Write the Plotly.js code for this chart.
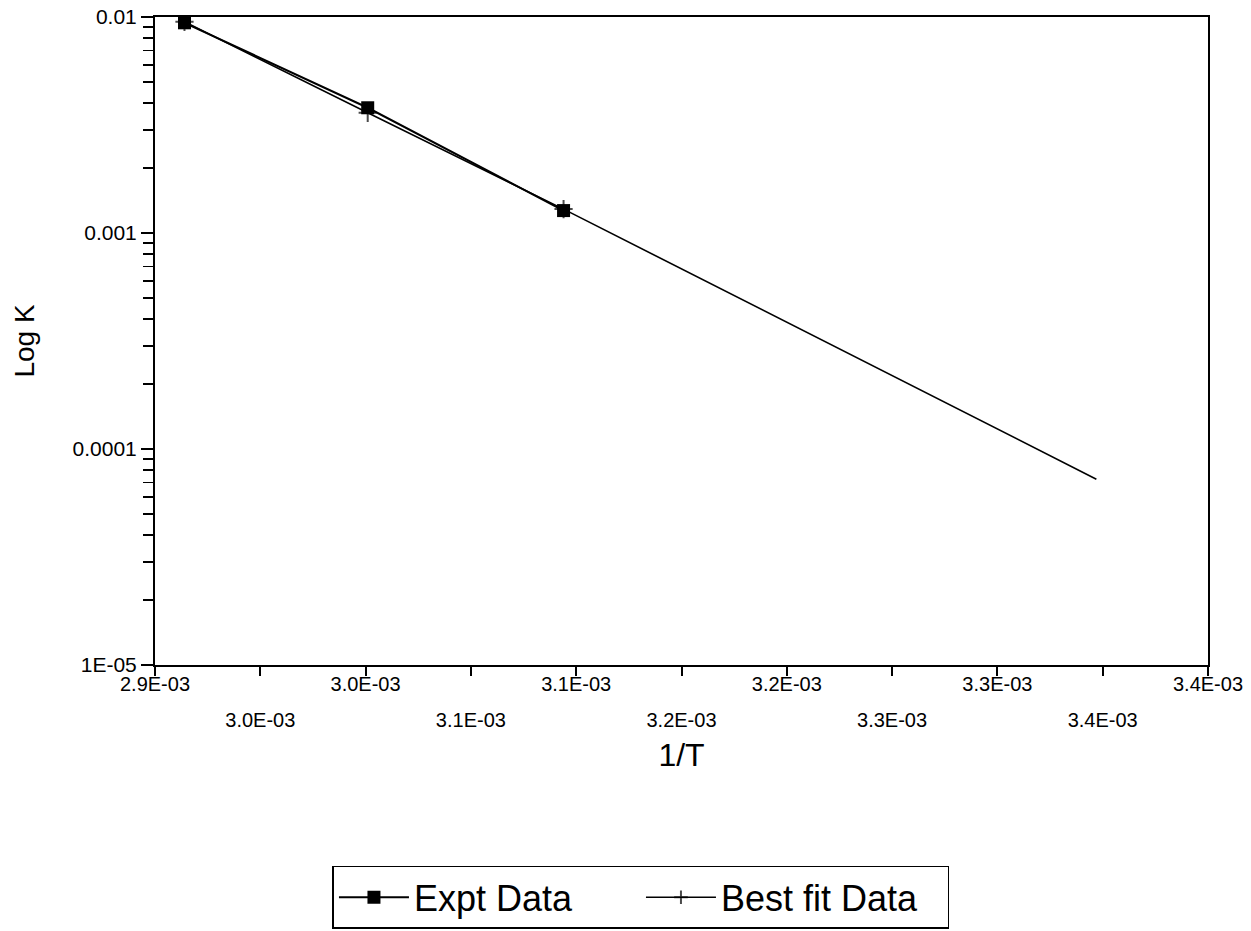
<!DOCTYPE html>
<html>
<head>
<meta charset="utf-8">
<script src="https://cdn.plot.ly/plotly-3.0.1.min.js"></script>
<style>html,body{margin:0;padding:0;background:#fff;}#chart{width:1251px;height:931px;}</style>
</head>
<body>
<div id="chart"></div>
<script>
// 1/T values (1/K)
const exptInvT = [0.002914, 0.003001, 0.003094];
const exptK = [0.0094, 0.0038, 0.00127];
const fitInvT = [0.002914, 0.003001, 0.003094, 0.003347];
const fitK = [0.0095, 0.0036, 0.00129, 0.0000725];

// upper row of x tick labels
const xMajorTicks = [0.0029, 0.0030, 0.0031, 0.0032, 0.0033, 0.0034];
const xMajorLabels = ["2.9E-03", "3.0E-03", "3.1E-03", "3.2E-03", "3.3E-03", "3.4E-03"];
// lower (staggered) row of x tick labels
const xMidTicks = [0.00295, 0.00305, 0.00315, 0.00325, 0.00335];
const xMidLabels = ["3.0E-03", "3.1E-03", "3.2E-03", "3.3E-03", "3.4E-03"];
const yTicks = [0.01, 0.001, 0.0001, 0.00001];
const yLabels = ["0.01", "0.001", "0.0001", "1E-05"];

const yMinor = [];
for (let e = -5; e < -2; e++) for (let m = 2; m <= 9; m++) yMinor.push(m * Math.pow(10, e));

// all tick marks drawn by the second axis; only the staggered ones carry text
const allTickVals = xMajorTicks.concat(xMidTicks);
const allTickText = xMajorTicks.map(() => "").concat(xMidLabels);

const FONT = "Liberation Sans, Arial, sans-serif";

const traces = [
  {
    x: exptInvT, y: exptK, name: "Expt Data", mode: "lines+markers",
    line: {color: "#000", width: 2},
    marker: {symbol: "square", size: 13, color: "#000"}
  },
  {
    x: fitInvT, y: fitK, name: "Best fit Data", mode: "lines+markers",
    line: {color: "#000", width: 1.6},
    marker: {symbol: "cross-thin", size: [13, 13, 13, 0], line: {color: "#000", width: 2}, color: "#000"}
  },
  {
    // carrier so that the second (staggered) tick-label axis gets drawn
    x: fitInvT, y: fitK, xaxis: "x2", yaxis: "y", mode: "lines",
    line: {color: "rgba(0,0,0,0)", width: 0}, showlegend: false, hoverinfo: "skip"
  }
];

const layout = {
  width: 1251, height: 931,
  paper_bgcolor: "#fff", plot_bgcolor: "#fff",
  margin: {l: 155, r: 43, t: 17, b: 266, autoexpand: false},
  font: {family: FONT, color: "#000", size: 20},
  showlegend: true,
  legend: {
    orientation: "h", x: 0.4615, xanchor: "center", y: -0.31, yanchor: "top",
    bordercolor: "#000", borderwidth: 1.5, bgcolor: "#fff",
    font: {family: FONT, size: 36, color: "#000"},
    itemwidth: 70, entrywidth: 222, entrywidthmode: "pixels"
  },
  xaxis: {
    type: "linear", range: [0.0029, 0.0034],
    tickmode: "array", tickvals: xMajorTicks, ticktext: xMajorLabels,
    ticks: "",
    showline: true, linecolor: "#000", linewidth: 2, mirror: true,
    showgrid: false, zeroline: false,
    tickfont: {family: FONT, size: 20},
    title: {text: "1/T", font: {family: FONT, size: 32}, standoff: 50}
  },
  xaxis2: {
    type: "linear", range: [0.0029, 0.0034], overlaying: "x", anchor: "y", side: "bottom",
    tickmode: "array", tickvals: allTickVals, ticktext: allTickText,
    ticks: "outside", ticklen: 10, tickwidth: 2, tickcolor: "#000",
    ticklabelstandoff: 27,
    showline: false, showgrid: false, zeroline: false,
    tickfont: {family: FONT, size: 20}
  },
  yaxis: {
    type: "log", range: [-5, -2],
    tickmode: "array", tickvals: yTicks, ticktext: yLabels,
    ticks: "outside", ticklen: 12, tickwidth: 2, tickcolor: "#000",
    minor: {tickmode: "array", tickvals: yMinor, ticks: "outside", ticklen: 10, tickwidth: 1.5, tickcolor: "#000", showgrid: false},
    showline: true, linecolor: "#000", linewidth: 2, mirror: true,
    showgrid: false, zeroline: false,
    tickfont: {family: FONT, size: 21},
    title: {text: "Log K", font: {family: FONT, size: 28}, standoff: 30}
  }
};

Plotly.newPlot("chart", traces, layout, {staticPlot: true, displayModeBar: false});
</script>
</body>
</html>
